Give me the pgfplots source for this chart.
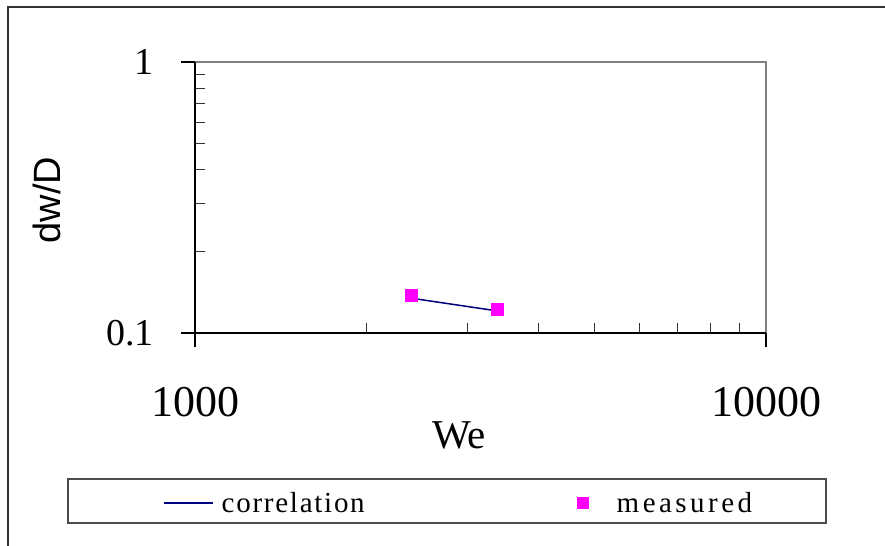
\documentclass[border=0pt]{standalone}
\usepackage{pgfplots}
\pgfplotsset{compat=1.18}
\usepackage{fontspec}
\setmainfont{Liberation Serif}
\newfontfamily\arial{Liberation Sans}
\newfontfamily\legA[LetterSpace=6]{Liberation Serif}
\newfontfamily\legB[LetterSpace=12]{Liberation Serif}
\definecolor{navyx}{RGB}{0,0,128}
\definecolor{magx}{RGB}{255,0,255}
\pgfplotsset{
  legline/.style={legend image code/.code={\draw[##1] (0bp,0bp) -- (49bp,0bp);}},
  legmark/.style={legend image code/.code={\draw[##1, mark size=5.5bp] plot coordinates {(0bp,0bp)};}},
}
\begin{document}
\begin{tikzpicture}
\useasboundingbox (0bp,0bp) rectangle (885bp,546bp);
\fill[white] (0bp,0bp) rectangle (885bp,546bp);
\draw[black!80, line width=1.3bp] (8bp,0bp) -- (8bp,539bp) -- (885bp,539bp);
\draw[black!70, line width=1.2bp] (68bp,23bp) rectangle (826bp,67bp);
\begin{axis}[
  at={(195bp,213bp)}, anchor=south west,
  scale only axis, width=571bp, height=271bp,
  xmode=log, ymode=log,
  xmin=1000, xmax=10000, ymin=0.1, ymax=1,
  clip=false,
  axis line style={draw=none},
  xtick={1000,10000}, xticklabels={1000,10000},
  ytick={0.1,1}, yticklabels={0.1,1},
  minor xtick={2000,3000,4000,5000,6000,7000,8000,9000},
  minor ytick={0.2,0.3,0.4,0.5,0.6,0.7,0.8,0.9},
  xtick pos=left, ytick pos=left,
  tick align=inside,
  major tick length=14bp, minor tick length=10bp,
  major tick style={black, line width=1.2bp},
  minor tick style={black!80, line width=1bp},
  extra x ticks={1000,10000}, extra y ticks={0.1,1},
  extra x tick labels={}, extra y tick labels={},
  extra tick style={tick align=outside, major tick length=14bp},
  xticklabel style={font=\fontsize{44bp}{48bp}\selectfont, anchor=center, inner sep=0pt, yshift=-69bp},
  yticklabel style={font=\fontsize{38bp}{42bp}\selectfont, anchor=east, inner sep=0pt, xshift=-41bp},
  xlabel={We}, ylabel={dw/D},
  xlabel style={at={(axis description cs:0.4623,-0.3764)}, anchor=center, font=\fontsize{41bp}{44bp}\selectfont},
  ylabel style={at={(axis description cs:-0.2592,0.4908)}, anchor=center, font=\arial\fontsize{38bp}{42bp}\selectfont},
  legend columns=2,
  legend style={draw=none, fill=none, inner sep=0pt,
    at={(axis description cs:-0.05604,-0.6273)}, anchor=west,
    nodes={text width=143bp, inner sep=0pt, font=\fontsize{29bp}{32bp}\selectfont},
    /tikz/column 1/.style={column sep=8bp},
    /tikz/column 2/.style={column sep=212.5bp},
    /tikz/column 3/.style={column sep=28.5bp}},
]
\addplot[color=navyx, line width=1.5bp, mark=none, legline]
  coordinates {(2387,0.1345) (3378,0.1207)};
\addlegendentry{\legA correlation}
\addplot[only marks, mark=square*, mark size=6bp, color=magx,
  mark options={draw=magx, fill=magx}, legmark]
  coordinates {(2387,0.1375) (3378,0.1221)};
\addlegendentry{\legB measured}
\draw[black!50, line width=1.5bp] (rel axis cs:0,1) -- (rel axis cs:1,1) -- (rel axis cs:1,0);
\draw[black, line width=1.5bp] (rel axis cs:0,1) -- (rel axis cs:0,0) -- (rel axis cs:1,0);
\end{axis}
\end{tikzpicture}
\end{document}
